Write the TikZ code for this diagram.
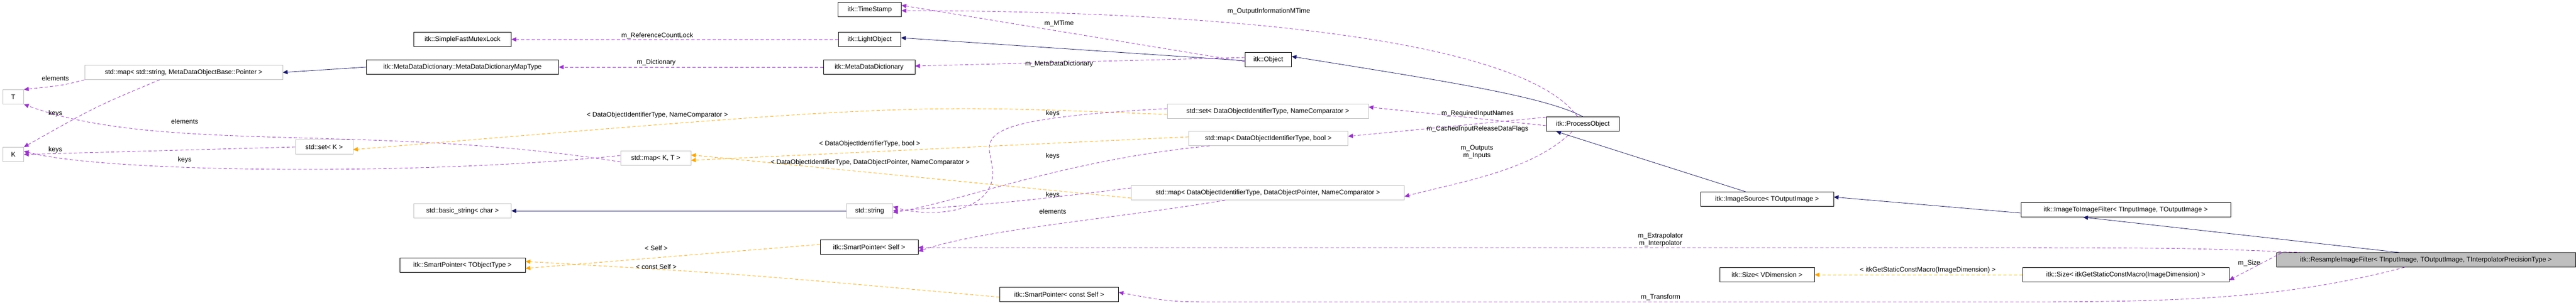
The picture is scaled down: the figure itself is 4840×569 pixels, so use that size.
\documentclass[tikz,border=0pt]{standalone}
\usepackage{fontspec}
\setmainfont{Liberation Sans}
\usetikzlibrary{arrows.meta}
\definecolor{purp}{HTML}{9A32CD}
\definecolor{orng}{HTML}{FFA500}
\definecolor{navy}{HTML}{191970}
\begin{document}
\begin{tikzpicture}[x=1pt,y=-1pt,font=\fontsize{12.5}{14}\selectfont,
  box/.style={draw=black,thick,fill=white,minimum height=27pt,inner sep=2pt},
  gbox/.style={draw=gray!50,thick,fill=white,minimum height=27pt,inner sep=2pt},
  tip/.style={-{Triangle[length=9pt,width=8pt]}},
  use/.style={tip,dashed,dash pattern=on 6pt off 4pt,purp,thick},
  tmpl/.style={tip,dashed,dash pattern=on 6pt off 4pt,orng,thick},
  inh/.style={tip,navy,thick},
  lab/.style={font=\fontsize{12.5}{14}\selectfont,align=center,inner sep=0pt}]
\useasboundingbox (0,0) rectangle (4840,569);
\node[gbox,minimum width=39pt] (T) at (25,182) {T};
\node[gbox,minimum width=39pt] (K) at (25,290) {K};
\node[gbox,minimum width=372pt] (mapStr) at (345,136) {std::map< std::string, MetaDataObjectBase::Pointer >};
\node[gbox,minimum width=108pt] (setK) at (609,276) {std::set< K >};
\node[box,minimum width=183pt] (SFML) at (869,74) {itk::SimpleFastMutexLock};
\node[box,minimum width=361pt] (MDDMT) at (869,126) {itk::MetaDataDictionary::MetaDataDictionaryMapType};
\node[gbox,minimum width=183pt] (bstr) at (869,396) {std::basic\_string< char >};
\node[box,minimum width=236pt] (SPT) at (869,498) {itk::SmartPointer< TObjectType >};
\node[box,minimum width=119pt] (TS) at (1634,18) {itk::TimeStamp};
\node[box,minimum width=117pt] (LO) at (1634,74) {itk::LightObject};
\node[box,minimum width=172pt] (MDD) at (1633,126) {itk::MetaDataDictionary};
\node[gbox,minimum width=132pt] (mapKT) at (1232,297) {std::map< K, T >};
\node[gbox,minimum width=87pt] (str) at (1634,396) {std::string};
\node[box,minimum width=184pt] (SPS) at (1633,464) {itk::SmartPointer< Self >};
\node[box,minimum width=223pt] (SPC) at (1990,553) {itk::SmartPointer< const Self >};
\node[box,minimum width=87pt] (Obj) at (2383,112) {itk::Object};
\node[gbox,minimum width=378pt] (setD) at (2382,209) {std::set< DataObjectIdentifierType, NameComparator >};
\node[gbox,minimum width=299pt] (mapB) at (2383,260) {std::map< DataObjectIdentifierType, bool >};
\node[gbox,minimum width=513pt] (mapD) at (2382,362) {std::map< DataObjectIdentifierType, DataObjectPointer, NameComparator >};
\node[box,minimum width=137pt] (PO) at (2974,233) {itk::ProcessObject};
\node[box,minimum width=250pt] (IS) at (3320,374) {itk::ImageSource< TOutputImage >};
\node[box,minimum width=394pt] (IIF) at (3994,394) {itk::ImageToImageFilter< TInputImage, TOutputImage >};
\node[box,minimum width=178pt] (SzV) at (3320,516) {itk::Size< VDimension >};
\node[box,minimum width=388pt] (SzI) at (3994,516) {itk::Size< itkGetStaticConstMacro(ImageDimension) >};
\node[box,fill=gray!50,minimum width=562pt] (RIF) at (4558,488) {itk::ResampleImageFilter< TInputImage, TOutputImage, TInterpolatorPrecisionType >};

% left area
\draw[use] (mapStr.south west) .. controls (120,160) .. (T.north east);
\node[lab] at (104,147) {elements};
\draw[use] ([xshift=-45pt]mapStr.south) .. controls (180,200) .. (K.north east);
\node[lab] at (104,213) {keys};
\draw[use] ([yshift=-7pt]mapKT.west) .. controls (700,230) and (300,290) .. (T.south east);
\node[lab] at (347,228) {elements};
\draw[use] (setK.west) -- (K.east);
\node[lab] at (104,281) {keys};
\draw[use] ([yshift=5pt]mapKT.west) .. controls (800,330) and (200,325) .. ([yshift=6pt]K.east);
\node[lab] at (347,300) {keys};
\draw[inh] (MDDMT.west) -- (mapStr.east);
\draw[use] (LO.west) -- (SFML.east);
\node[lab] at (1235,67) {m\_ReferenceCountLock};
\draw[use] (MDD.west) -- (MDDMT.east);
\node[lab] at (1233,117) {m\_Dictionary};
\draw[use] ([yshift=-4pt]Obj.west) -- ([yshift=8pt]TS.east);
\node[lab] at (1990,44) {m\_MTime};
\draw[use] ([xshift=-10pt]PO.north) .. controls (2850,60) and (2200,20) .. ([yshift=-2pt]TS.east);
\node[lab] at (2384,21) {m\_OutputInformationMTime};
\draw[inh] ([yshift=-2pt]Obj.west) -- ([yshift=3pt]LO.east);
\draw[use] ([yshift=4pt]Obj.west) -- ([yshift=2pt]MDD.east);
\node[lab] at (1990,120) {m\_MetaDataDictionary};
\draw[inh] ([xshift=0pt]PO.north) .. controls (2900,180) and (2700,150) .. ([yshift=6pt]Obj.east);
\draw[tmpl] ([yshift=-6pt]setD.west) .. controls (1700,195) .. ([yshift=-5pt]setK.east);
\node[lab] at (1235,216) {< DataObjectIdentifierType, NameComparator >};
\draw[use] ([yshift=5pt]setD.west) .. controls (1800,225) and (1860,260) .. (1865,320) .. controls (1870,400) and (1750,410) .. ([yshift=8pt]str.east);
\node[lab] at (1978,213) {keys};
\draw[tmpl] ([yshift=3pt]mapB.west) -- ([yshift=-4pt]mapKT.east);
\node[lab] at (1634,270) {< DataObjectIdentifierType, bool >};
\draw[tmpl] ([yshift=-10pt]mapD.west) -- ([yshift=6pt]mapKT.east);
\node[lab] at (1635,305) {< DataObjectIdentifierType, DataObjectPointer, NameComparator >};
\draw[use] ([xshift=-110pt]mapB.south) .. controls (2000,300) and (1800,380) .. ([yshift=-3pt]str.east);
\node[lab] at (1978,293) {keys};
\draw[use] ([yshift=9pt]mapD.west) .. controls (1900,380) .. ([yshift=0pt]str.east);
\node[lab] at (1978,366) {keys};
\draw[use] ([xshift=-80pt]mapD.south) .. controls (2100,410) and (1850,430) .. ([yshift=-8pt]SPS.east);
\node[lab] at (1978,397) {elements};
\draw[inh] (str.west) -- (bstr.east);
\draw[tmpl] ([yshift=5pt]SPS.west) -- ([yshift=-6pt]SPT.east);
\node[lab] at (1233,466) {< Self >};
\draw[tmpl] ([yshift=-5pt]SPC.west) .. controls (1400,515) .. ([yshift=7pt]SPT.east);
\node[lab] at (1233,501) {< const Self >};
\draw[use] ([yshift=-3pt]PO.west) -- ([yshift=8pt]setD.east);
\node[lab] at (2776,213) {m\_RequiredInputNames};
\draw[use] ([yshift=13pt]PO.west) -- ([yshift=4pt]mapB.east);
\node[lab] at (2776,242) {m\_CachedInputReleaseDataFlags};
\draw[use] ([xshift=-20pt]PO.south) .. controls (2880,320) and (2750,340) .. ([yshift=-7pt]mapD.east);
\node[lab] at (2775,285) {m\_Outputs\\m\_Inputs};
\draw[inh] ([xshift=-40pt]IS.north) -- ([xshift=-50pt]PO.south);
\draw[inh] ([yshift=-6pt]IIF.west) -- ([yshift=4pt]IS.east);
\draw[inh] ([xshift=-50pt]RIF.north) -- ([xshift=-80pt]IIF.south);
\draw[use] ([xshift=-232pt]RIF.north) .. controls (4100,465) .. (3500,465) -- (1725,465);
\node[lab] at (3120,450) {m\_Extrapolator\\m\_Interpolator};
\draw[use] ([yshift=13pt,xshift=10pt]RIF.west) -- ([yshift=-10pt]SzI.east);
\node[lab] at (4226,494) {m\_Size};
\draw[tmpl] (SzI.west) -- (SzV.east);
\node[lab] at (3622,507) {< itkGetStaticConstMacro(ImageDimension) >};
\draw[use] ([xshift=-40pt]RIF.south) .. controls (4300,560) and (4100,567) .. (3800,567) -- (2300,567) .. controls (2200,567) .. ([yshift=4pt]SPC.east);
\node[lab] at (3120,558) {m\_Transform};
\end{tikzpicture}
\end{document}
